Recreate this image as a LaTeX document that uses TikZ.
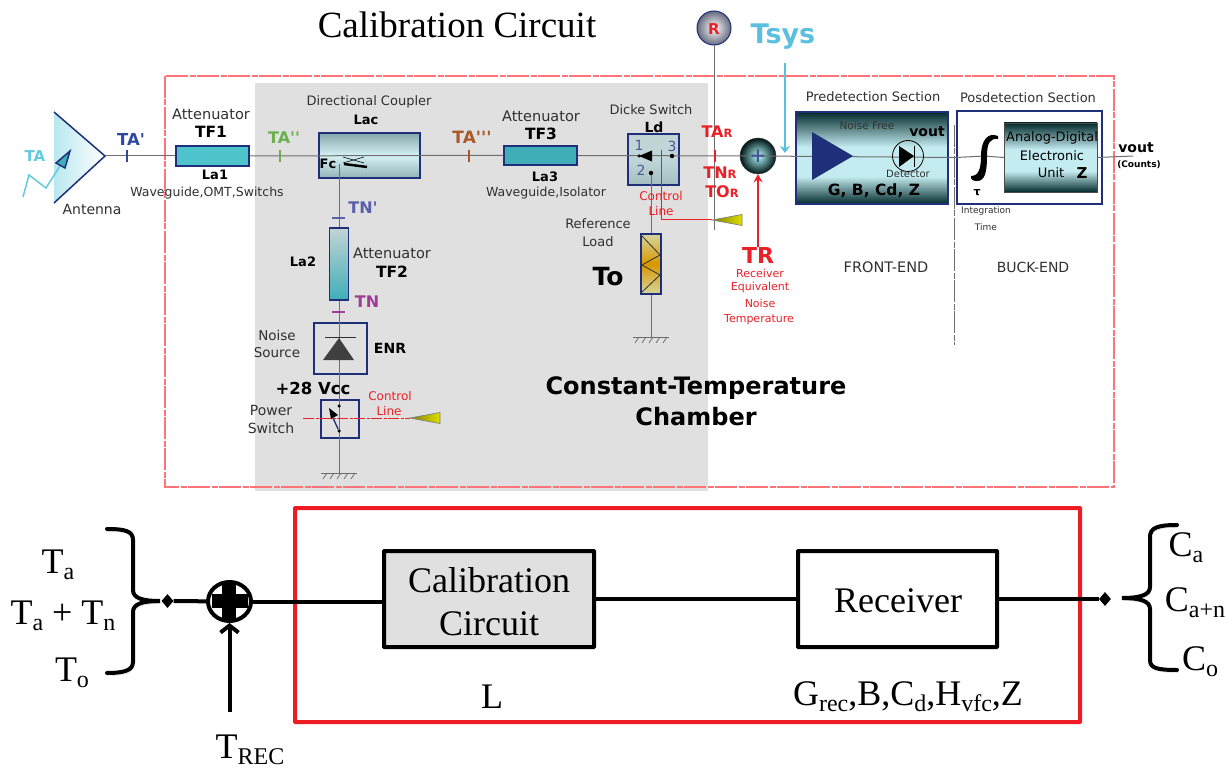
\documentclass[tikz,border=0pt]{standalone}
\usepackage{fontspec}
\setmainfont{Liberation Serif}
\newfontfamily\vfont{DejaVu Sans}
\usetikzlibrary{arrows.meta,shapes.geometric,calc}
\newcommand{\fs}[1]{\fontsize{#1}{#1}\selectfont}
\newcommand{\lo}[1]{\raisebox{-6pt}{\fs{24}#1}}
\definecolor{navy}{HTML}{1F2F7A}
\definecolor{wiregray}{HTML}{6E6E6E}
\definecolor{chamber}{HTML}{E0E0E0}
\definecolor{dashred}{HTML}{FF7478}
\definecolor{boxred}{HTML}{ED1C24}
\definecolor{labtext}{HTML}{303030}
\definecolor{skyb}{HTML}{5BBFE0}
\definecolor{tacol}{HTML}{62CBDD}
\definecolor{attone}{HTML}{4FC3CC}
\definecolor{attthree}{HTML}{3FAEB8}
\definecolor{tapcol}{HTML}{2E4A9E}
\definecolor{tappcol}{HTML}{6AB04C}
\definecolor{tapppcol}{HTML}{A85A2A}
\definecolor{tnpcol}{HTML}{5A5FA8}
\definecolor{tncol}{HTML}{A03C96}
\definecolor{redtext}{HTML}{EA2028}
\definecolor{glassdark}{HTML}{032A2C}
\definecolor{glasslight}{HTML}{C4ECF0}
\pgfdeclareverticalshading{darkglass}{100bp}{color(0bp)=(glassdark); color(25bp)=(glassdark); color(40bp)=(glasslight); color(56bp)=(glasslight); color(75bp)=(glassdark); color(100bp)=(glassdark)}
\tikzset{
  wire/.style={draw=wiregray, line width=1pt},
  redwire/.style={draw=redtext, line width=1pt},
  fatwire/.style={draw=black, line width=4pt},
  lab/.style={inner sep=0, text=labtext, font=\vfont\fs{13}},
  bold/.style={inner sep=0, text=black, font=\vfont\bfseries\fs{#1}},
  bold/.default=13,
  redlab/.style={inner sep=0, text=redtext, font=\vfont\fs{12}},
  tag/.style={inner sep=0, font=\vfont\bfseries\fs{#1}},
  serif/.style={inner sep=0, font=\fs{36}},
  tick/.style={line width=1.2pt},
  navybox/.style={draw=navy, line width=1.5pt, minimum width=#1, inner sep=0},
  darkbox/.style={navybox=#1, shade, shading=darkglass},
  blackbox/.style={draw=black, line width=4pt, inner sep=0, rounded corners=0.5pt},
  dot/.style={circle, fill=black, inner sep=0, minimum size=4.5pt},
  bracket/.style={draw=black, line width=4pt, line cap=round, preaction={draw=gray!35, transform canvas={shift={(1pt,-2.5pt)}}}}
}
\tikzset{
  ground/.pic={
    \draw[wiregray, line width=0.8pt] (-18,0)--(18,0);
    \foreach \k in {-12,-5,2,9,16} {
      \draw[wiregray, line width=0.8pt] (\k,0)--++(-4,6);
    }
  },
  horn/.pic={
    \draw[draw=gray, line width=0.7pt, left color=olive, right color=yellow!75!olive] (0,0)--(30,-5.5)--(30,5.5)--cycle;
  }
}

\begin{document}
\begin{tikzpicture}[x=1pt,y=-1pt]
        \useasboundingbox (0,0) rectangle (1226,770);
        \fill[chamber] (255,83) rectangle (708,491);
        \draw[dashred, line width=1.2pt, dash pattern=on 22pt off 1.5pt on 6pt off 1.5pt] (165,76) rectangle (1114,487);
        \node[serif, font=\fs{37}] (title) at (457,25) {Calibration Circuit};
        % antenna
        \coordinate (anttip) at (105,156);
        \fill[left color=tacol!45, right color=white] (54,112)--(anttip)--(54,203)--cycle;
        \draw[navy, line width=1.5pt] (54,112)--(anttip)--(54,203);
        \node[tag=15, text=tacol] (ta) at (35,156) {TA};
        \coordinate (zig) at (23,197);
        \draw[tacol, line width=1.5pt] (zig)--(29,175)--(46,188)--(60,166);
        \draw[navy, line width=1.5pt, fill=attthree] (70,151)--(56,163)--(65,168)--cycle;
        \node[lab, font=\vfont\fs{14}] (antenna) at (92,209) {Antenna};
        % attenuators and coupler
        \node[navybox=73pt, minimum height=20pt, fill=attone] (tf1) at (212.5,156) {};
        \node[navybox=73pt, minimum height=19pt, fill=attthree] (tf3) at (540.5,155.5) {};
        \node[navybox=101pt, minimum height=45pt, top color=attthree!40!gray!80, bottom color=attthree!45!gray!70, middle color=glasslight!70!white] (lac) at (369.5,155.5) {};
        \node[navybox=19pt, minimum height=72pt, top color=glasslight!60!gray!70, bottom color=attthree] (tf2) at (339,264) {};
        \node[navybox=51pt, minimum height=51pt, top color=glasslight!60!gray!70, bottom color=attthree!40!gray!60, middle color=glasslight!70!gray!80] (ld) at (653.5,159.5) {};
        \node[navybox=20pt, minimum height=60pt, top color=yellow!40!gray!55, bottom color=yellow!40!gray!55, middle color=orange!60!yellow!85!black] (load) at (651,264) {};
        \draw[labtext, line width=0.8pt] (642,236)--(660,255)--(642,265)--(660,275)--(642,292);
        \node[navybox=53pt, minimum height=51pt] (noise) at (340.5,348.5) {};
        \node[navybox=38pt, minimum height=38pt] (pswitch) at (340,419) {};
        % sections
        \node[darkbox=152pt, minimum height=92pt] (pred) at (872,158) {};
        \node[navybox=145pt, minimum height=93pt, fill=white] (pos) at (1029.5,157.5) {};
        \node[darkbox=93pt, minimum height=69pt, draw=black!70, line width=0.5pt] (unit) at (1050.5,157.5) {};
        % sum and reference
        \node[circle, minimum size=36pt, inner sep=0, inner color=cyan!30, outer color=black!85!teal, draw=black!70] (sum) at (758,156) {};
        \node[circle, minimum size=34pt, inner sep=0, inner color=white, outer color=gray!75!navy, draw=navy, line width=1pt] (rnode) at (714,28) {};
        \coordinate (rend) at (714,230);
        \draw[wire] (rnode)--(rend);
        \node[tag=15, text=redtext] (rlab) at (714,29) {R};
        % main line
        \coordinate (coutend) at (1133,156);
        \coordinate (fc) at (339,164);
        \coordinate (int) at (984,156);
        \draw[wire] (anttip)--(tf1.west);
        \draw[wire] (tf1.east)--(lac.east)--(tf3.west);
        \draw[wire] (tf3.east)--(sum.center);
        \draw[wire] (sum.center)--(pos.west)--(int)--(unit.west);
        \draw[wire] (unit.east)--(coutend);
        \draw[wire] (fc)--(tf2.north);
        \draw[wire] (tf2.south)--(339,473);
        \draw[wire] (651,173)--(load.north);
        \draw[wire] (load.south)--(651,337);
        \pic at (339,473) {ground};
        \pic at (651,337) {ground};
        % ticks
        \draw[tick, tapcol] (127,150)--(127,162);
        \draw[tick, tappcol] (280,150)--(280,162);
        \draw[tick, tapppcol] (469,150)--(469,162);
        \draw[tick, redtext] (715,150)--(715,162);
        \draw[tick, tnpcol] (332,218)--(345,218);
        \draw[tick, tncol] (332,312)--(345,312);
        \node[tag=16.5, text=tapcol] (tap) at (131,139) {TA'};
        \node[tag=16, text=tappcol] (tapp) at (284,138) {TA''};
        \node[tag=17, text=tapppcol] (tappp) at (472,137) {TA'''};
        \node[tag=16, text=tnpcol] (tnp) at (363,208) {TN'};
        \node[tag=16, text=tncol] (tn) at (367,302) {TN};
        % coupler symbol
        \draw[black, line width=0.6pt] (343,157)--(364,163);
        \draw[black, line width=0.6pt] (343,163)--(364,157);
        \draw[black, line width=2.5pt] (344,164)--(367,167);
        \node[bold=13] (fclab) at (328,164) {Fc};
        % noise source and power switch
        \draw[labtext, line width=0.7pt] (325,337)--(356,337);
        \fill[black!75] (339,338)--(323,360)--(354,360)--cycle;
        \node[dot, minimum size=3.5pt] (sw1) at (339,406) {};
        \node[dot, minimum size=3.5pt] (sw2) at (339,431) {};
        \draw[navy, line width=1.3pt] (sw2)--(333,418);
        \fill[black] (329,408)--(338,415)--(331,419)--cycle;
        \coordinate (ctrlsw) at (410,418);
        \draw[redwire, dash pattern=on 11pt off 1.5pt on 3pt off 1.5pt] (303,418)--(ctrlsw);
        \pic at (ctrlsw) {horn};
        % dicke switch
        \node[dot] (d3) at (672,156) {};
        \node[dot] (d2) at (651,173) {};
        \fill[black] (639,156)--(652,150.5)--(652,161.5)--cycle;
        \node[dot, minimum size=3.5pt] (d1) at (639,156) {};
        \coordinate (ctrld) at (712,220);
        \draw[redwire] (661,150)--(661,220)--(ctrld);
        \pic at (ctrld) {horn};
        \node[tag=12, text=navy!80, font=\vfont\fs{14}] (n1) at (639,145) {1};
        \node[tag=12, text=navy!80, font=\vfont\fs{14}] (n3) at (672,146) {3};
        \node[tag=12, text=navy!80, font=\vfont\fs{14}] (n2) at (641,170) {2};
        % predetection contents
        \fill[navy] (812,132)--(853,156)--(812,180)--cycle;
        \node[circle, draw=black, line width=0.8pt, minimum size=31pt, inner sep=0] (det) at (908,156) {};
        \fill[black] (899,146)--(914,156)--(899,167)--cycle;
        \draw[black, line width=0.8pt] (914,146)--(914,167);
        \fill[black] (998,136) .. controls (988,132) and (981,140) .. (981,156) .. controls (981,170) and (978,176) .. (971,176) .. controls (970,180) and (974,181) .. (977,181) .. controls (985,181) and (987,172) .. (987,156) .. controls (987,143) and (990,138) .. (998,139) -- cycle;
        \draw[wiregray, line width=0.9pt, dash pattern=on 22pt off 1.5pt on 6pt off 1.5pt] (954,125)--(954,345);
        % sections text
        \node[lab] (predlab) at (873,97) {Predetection Section};
        \node[lab] (poslab) at (1028,98) {Posdetection Section};
        \node[lab, font=\vfont\fs{10.5}, text=black!80] (nfree) at (867,126) {Noise Free};
        \node[bold=14] (vout) at (927,132) {vout};
        \node[lab, font=\vfont\fs{10}] (detlab) at (908,174) {Detector};
        \node[bold=15.5] (gains) at (874,191) {G, B, Cd, Z};
        \node[lab, text=black] (adlab) at (1052,138) {Analog-Digital};
        \node[lab, text=black] (ellab) at (1052,156) {Electronic};
        \node[lab, text=black] (unlab) at (1051,173) {Unit};
        \node[bold=15] (zlab) at (1082,173) {Z};
        \node[bold=11] (taulab) at (977,193) {τ};
        \node[lab, font=\vfont\fs{9}] (intlab) at (986,211) {Integration};
        \node[lab, font=\vfont\fs{9}] (timelab) at (986,227) {Time};
        \node[bold=14] (vout2) at (1136,148) {vout};
        \node[bold=9] (counts) at (1139,165) {(Counts)};
        \node[lab, font=\vfont\fs{14.5}] (felab) at (886,267) {FRONT-END};
        \node[lab, font=\vfont\fs{14}] (belab) at (1033,267) {BUCK-END};
        % chamber text
        \node[lab, font=\vfont\fs{14.5}] (att1) at (211,114) {Attenuator};
        \node[bold=15.5] (tf1lab) at (211,132) {TF1};
        \node[bold=13] (la1) at (215,175) {La1};
        \node[lab, font=\vfont\fs{12.5}] (wg1) at (207,193) {Waveguide,OMT,Switchs};
        \node[lab] (dc) at (369,102) {Directional Coupler};
        \node[bold=13] (laclab) at (366,120) {Lac};
        \node[lab, font=\vfont\fs{14.5}] (att2) at (392,253) {Attenuator};
        \node[bold=15.5] (tf2lab) at (392,272) {TF2};
        \node[bold=13] (la2) at (303,262) {La2};
        \node[lab, font=\vfont\fs{13.5}] (nolab) at (277,335) {Noise};
        \node[lab, font=\vfont\fs{13.5}] (solab) at (277,353) {Source};
        \node[bold=14] (enr) at (390,348) {ENR};
        \node[bold=16.5] (vcc) at (313,388) {+28 Vcc};
        \node[lab, font=\vfont\fs{14}] (powlab) at (271,410) {Power};
        \node[lab, font=\vfont\fs{14}] (swlab) at (271,428) {Switch};
        \node[redlab] (cl1) at (390,396) {Control};
        \node[redlab] (cl2) at (389,411) {Line};
        \node[lab, font=\vfont\fs{14.5}] (att3) at (541,116) {Attenuator};
        \node[bold=15.5] (tf3lab) at (541,134) {TF3};
        \node[bold=13] (la3) at (545,177) {La3};
        \node[lab, font=\vfont\fs{12.5}] (wg3) at (546,193) {Waveguide,Isolator};
        \node[lab] (dicke) at (651,110) {Dicke Switch};
        \node[bold=14] (ldlab) at (654,127) {Ld};
        \node[lab] (reflab) at (598,224) {Reference};
        \node[lab] (loadlab) at (598,242) {Load};
        \node[bold=25] (tolab) at (608,277) {To};
        \node[redlab] (cl3) at (661,196) {Control};
        \node[redlab] (cl4) at (661,211) {Line};
        \node[inner sep=0] (cham1) at (696,388) {\vfont\bfseries\fs{24}Constant-Temperature};
        \node[inner sep=0] (cham2) at (696,417) {\vfont\bfseries\fs{24}Chamber};
        % red labels
        \node[tag=16, text=redtext] (tar) at (717,132) {TA{\fs{11.5}R}};
        \node[tag=16, text=redtext] (tnr) at (720,173) {TN{\fs{11.5}R}};
        \node[tag=16, text=redtext] (tor) at (722,192) {TO{\fs{11.5}R}};
        \node[tag=22, text=redtext] (trlab) at (758,255) {TR};
        \node[redlab, font=\vfont\fs{11}] (rec1) at (760,273) {Receiver};
        \node[redlab, font=\vfont\fs{11}] (rec2) at (760,287) {Equivalent};
        \node[redlab, font=\vfont\fs{11}] (rec3) at (760,303) {Noise};
        \node[redlab, font=\vfont\fs{11}] (rec4) at (759,320) {Temperature};
        \draw[redtext, line width=2pt, -{Stealth[length=8pt,width=9pt]}] (trlab.north)--(sum.south);
        \node[tag=20, text=navy!80] (plus) at (758,156) {+};
        \node[tag=27, text=skyb] (tsys) at (783,37) {Tsys};
        \coordinate (tsysend) at (785,153);
        \draw[skyb, line width=1.2pt, -{Stealth[length=7pt,width=10pt]}] (785,63)--(tsysend);
        % lower block diagram
        \draw[boxred, line width=4pt, rounded corners=0.5pt] (295,508) rectangle (1080,722);
        \node[blackbox, fill=chamber, minimum width=210pt, minimum height=96pt] (calib) at (489,599) {};
        \node[blackbox, fill=white, minimum width=199pt, minimum height=96pt] (recv) at (897.5,599) {};
        \node[serif] (cal1) at (489,580) {Calibration};
        \node[serif] (cal2) at (489,624) {Circuit};
        \node[serif] (reclab) at (898,601) {Receiver};
        \node[serif] (llab) at (492,697) {L};
        \node[serif] (glab) at (908,697) {G\lo{rec},B,C\lo{d},H\lo{vfc},Z};
        \node[diamond, fill=black, inner sep=0, minimum width=12pt, minimum height=14pt] (dleft) at (167.5,601) {};
        \node[diamond, fill=black, inner sep=0, minimum width=12pt, minimum height=14pt] (dright) at (1105,599) {};
        \node[ellipse, draw=black, line width=4pt, minimum width=43pt, minimum height=39pt, inner sep=0] (add) at (229.5,601.5) {};
        \fill[black] (222,582) rectangle (236,621);
        \fill[black] (212,594) rectangle (248,608);
        \draw[fatwire] (dleft)--(add);
        \draw[fatwire] (add)--(calib.west |- add);
        \draw[fatwire] (calib.east)--(recv.west);
        \draw[fatwire] (recv.east)--(dright);
        \coordinate (tin) at (229.5,712);
        \draw[fatwire, -{Straight Barb[length=7pt,width=18pt,line width=4pt]}] (tin)--(add.south);
        \node[serif] (trec) at (250,750) {T\lo{REC}};
        \draw[bracket] (107,529) .. controls (125,529) and (133,531) .. (133,540) -- (133,590) .. controls (133,598) and (142,601) .. (160,601) .. controls (142,601) and (133,604) .. (133,612) -- (133,662) .. controls (133,670) and (125,673) .. (107,673);
        \draw[bracket] (1177,525) .. controls (1157,525) and (1150,528) .. (1150,537) -- (1150,587) .. controls (1150,595) and (1140,598) .. (1122,598) .. controls (1140,598) and (1150,601) .. (1150,609) -- (1150,660) .. controls (1150,668) and (1157,670) .. (1177,670);
        \node[serif] (ta1) at (58,565) {T\lo{a}};
        \node[serif] (ta2) at (63,616) {T\lo{a} + T\lo{n}};
        \node[serif] (to1) at (72,673) {T\lo{o}};
        \node[serif] (ca1) at (1186,548) {C\lo{a}};
        \node[serif] (ca2) at (1195,603) {C\lo{a+n}};
        \node[serif] (co1) at (1200,662) {C\lo{o}};
    \end{tikzpicture}
\end{document}
